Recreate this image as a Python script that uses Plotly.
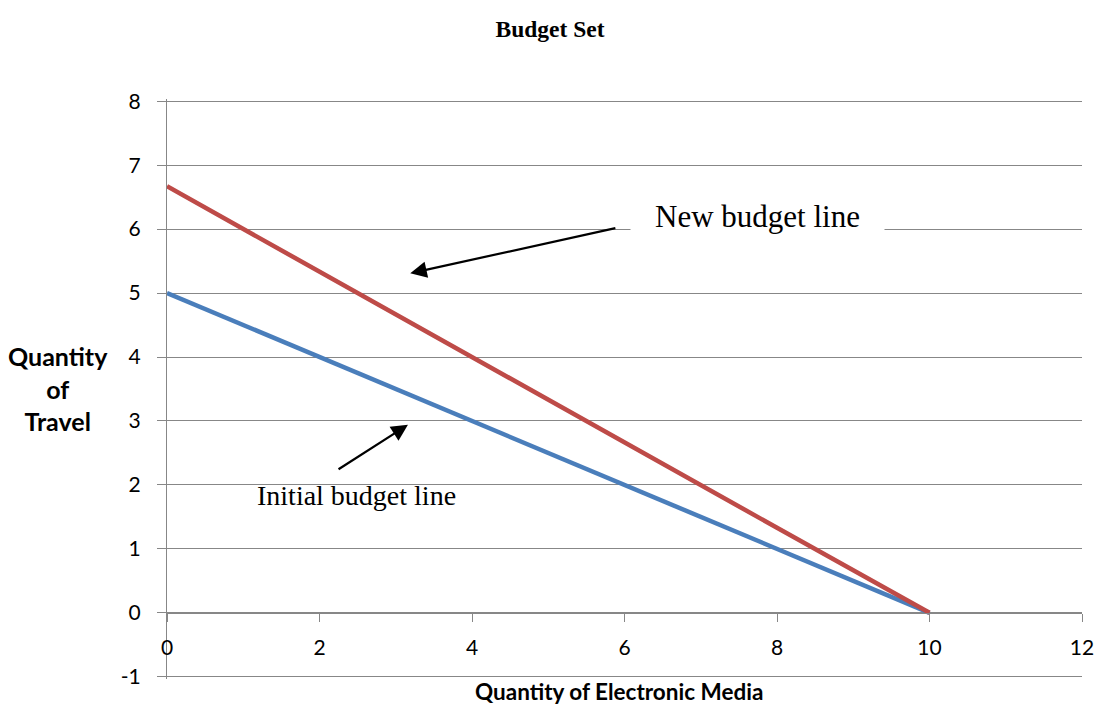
import plotly.graph_objects as go

# Budget lines: quantity of travel that can be bought for each quantity of electronic media
media_qty = [0, 2, 4, 6, 8, 10]
initial_travel = [5, 4, 3, 2, 1, 0]
new_travel = [6.67, 5.33, 4, 2.67, 1.33, 0]

x_ticks = [0, 2, 4, 6, 8, 10, 12]
y_ticks = [-1, 0, 1, 2, 3, 4, 5, 6, 7, 8]

GRID = "#878787"
SANS = "Lato, Carlito, Calibri, sans-serif"
SERIF = "Liberation Serif, Times New Roman, serif"
TICK_FONT = dict(family=SANS, size=21, color="#000000")

fig = go.Figure()
fig.add_trace(go.Scatter(
    x=media_qty, y=initial_travel, mode="lines", name="Initial budget line",
    line=dict(color="#4A7EBB", width=4.5), showlegend=False,
))
fig.add_trace(go.Scatter(
    x=media_qty, y=new_travel, mode="lines", name="New budget line",
    line=dict(color="#BE4B48", width=4.5), showlegend=False,
))

y_min, y_max = y_ticks[0], y_ticks[-1]
pad = 0.035  # keeps the outermost gridlines from being dropped at the range edges

fig.update_layout(
    width=1100, height=714,
    margin=dict(l=167, r=18, t=99, b=35),
    paper_bgcolor="white", plot_bgcolor="white",
    title=dict(
        text="<b>Budget Set</b>", x=0.5, xanchor="center",
        y=1 - 29 / 714, yanchor="middle",
        font=dict(family=SERIF, size=23.5, color="#000000"),
    ),
    xaxis=dict(
        range=[x_ticks[0], x_ticks[-1]], tickmode="array", tickvals=x_ticks,
        ticktext=[str(v) for v in x_ticks],
        showgrid=False, zeroline=False, automargin=False,
        showline=True, linecolor=GRID, linewidth=1.3,
        ticks="outside", ticklen=8, tickcolor=GRID, tickwidth=1.3,
        ticklabelstandoff=8,
        anchor="free", position=(0 - (y_min - pad)) / ((y_max + pad) - (y_min - pad)),
        tickfont=TICK_FONT,
    ),
    yaxis=dict(
        range=[y_min - pad, y_max + pad], tickmode="array", tickvals=y_ticks,
        ticktext=[str(v) for v in y_ticks],
        domain=[0, 1], automargin=False,
        showgrid=True, gridcolor=GRID, gridwidth=1.3, zeroline=False,
        showline=True, linecolor=GRID, linewidth=1.3,
        ticks="outside", ticklen=9, tickcolor=GRID, tickwidth=1.3,
        ticklabelstandoff=12,
        tickfont=TICK_FONT,
    ),
)

# Axis titles
fig.add_annotation(
    text="<b>Quantity of Electronic Media</b>", xref="paper", yref="paper",
    x=0.494, y=-12 / 580, xanchor="center", yanchor="middle",
    showarrow=False, font=dict(family=SANS, size=22.5, color="#000000"),
)
fig.add_annotation(
    text="<b>Quantity<br>of<br>Travel</b>", xref="paper", yref="paper",
    x=-109 / 915, y=(679 - 388) / 580, xanchor="center", yanchor="middle",
    showarrow=False, font=dict(family=SANS, size=25, color="#000000"), align="center",
)

# Line labels
fig.add_annotation(
    text="New budget line", x=7.74, y=6.2, xref="x", yref="y",
    showarrow=False, font=dict(family=SERIF, size=31, color="#000000"),
    bgcolor="white", borderpad=0, width=253,
)
fig.add_annotation(
    text="Initial budget line", x=2.48, y=1.83, xref="x", yref="y",
    showarrow=False, font=dict(family=SERIF, size=28, color="#000000"),
)

# Arrows pointing at each budget line
fig.add_annotation(
    x=3.19, y=5.31, ax=5.9, ay=6.02, xref="x", yref="y", axref="x", ayref="y",
    text="", showarrow=True, arrowhead=2, arrowsize=1.5, arrowwidth=2.2,
    arrowcolor="#000000",
)
fig.add_annotation(
    x=3.16, y=2.94, ax=2.23, ay=2.23, xref="x", yref="y", axref="x", ayref="y",
    text="", showarrow=True, arrowhead=2, arrowsize=1.5, arrowwidth=2.2,
    arrowcolor="#000000",
)

fig.write_html("out.html")
